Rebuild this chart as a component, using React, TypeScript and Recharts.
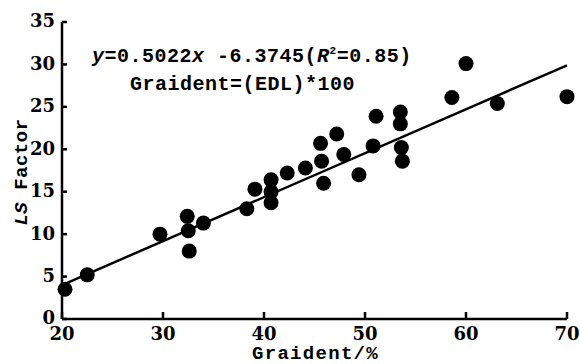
import { ScatterChart, Scatter, XAxis, YAxis } from "recharts";

const gradient = [20.3, 22.5, 29.7, 32.4, 32.5, 32.6, 34.0, 38.3, 39.1, 40.7, 40.7, 40.7, 42.3, 44.1, 45.6, 45.7, 45.9, 47.2, 47.9, 49.4, 50.8, 51.1, 53.5, 53.5, 53.6, 53.7, 58.6, 60.0, 63.1, 70.0];
const lsFactor = [3.5, 5.2, 10.0, 12.1, 10.4, 8.0, 11.3, 13.0, 15.3, 16.4, 15.0, 13.7, 17.2, 17.8, 20.7, 18.6, 16.0, 21.8, 19.4, 17.0, 20.4, 23.9, 24.4, 23.0, 20.2, 18.6, 26.1, 30.1, 25.4, 26.2];

// fitted line as drawn in the figure (end points)
const trendX = [20, 70];
const trendY = [4.0, 29.9];

const xTicks = [20, 30, 40, 50, 60, 70];
const yTicks = [0, 5, 10, 15, 20, 25, 30, 35];

const points = gradient.map((x, i) => ({ x, y: lsFactor[i] }));
const trend = trendX.map((x, i) => ({ x, y: trendY[i] }));

const mono = "'Liberation Mono', 'Courier New', monospace";
const serif = "'DejaVu Serif', 'Liberation Serif', serif";

const Dot = (props: any) => <circle cx={props.cx} cy={props.cy} r={7.5} fill="#000" />;

const textStyle = {
  position: "absolute" as const,
  fontFamily: mono,
  fontWeight: 700,
  fontSize: 20,
  lineHeight: "20px",
  letterSpacing: 0.5,
  whiteSpace: "nowrap" as const,
  color: "#000",
};

export default function App() {
  return (
    <div style={{ position: "absolute", left: 0, top: 0, width: 580, height: 364, background: "#fff", overflow: "hidden" }}>
      <ScatterChart width={580} height={364} margin={{ top: 22, right: 13, left: 12, bottom: 0 }}>
        <XAxis
          type="number"
          dataKey="x"
          domain={[20, 70]}
          ticks={xTicks}
          height={45}
          axisLine={{ stroke: "#000", strokeWidth: 2.5 }}
          tickLine={{ stroke: "#000", strokeWidth: 2.5 }}
          tickSize={-7}
          tickMargin={15}
          tick={{ fill: "#000", fontSize: 18, fontFamily: serif, fontWeight: 700 }}
        />
        <YAxis
          type="number"
          dataKey="y"
          domain={[0, 35]}
          ticks={yTicks}
          width={50}
          axisLine={{ stroke: "#000", strokeWidth: 2.5 }}
          tickLine={{ stroke: "#000", strokeWidth: 2.5 }}
          tickSize={-5}
          tickMargin={12}
          tick={{ fill: "#000", fontSize: 18, fontFamily: serif, fontWeight: 700, dy: -1 }}
        />
        <Scatter data={points} fill="#000" shape={Dot} isAnimationActive={false} />
        <Scatter
          data={trend}
          line={{ stroke: "#000", strokeWidth: 2.5 }}
          shape={() => null}
          isAnimationActive={false}
        />
      </ScatterChart>

      <div style={{ ...textStyle, left: 92, top: 47 }}>
        <i>y</i>=0.5022<i>x</i> -6.3745(<i>R</i>
        <sup style={{ fontSize: 11, lineHeight: 0 }}>2</sup>=0.85)
      </div>
      <div style={{ ...textStyle, left: 130, top: 75 }}>Graident=(EDL)*100</div>
      <div style={{ ...textStyle, left: 252, top: 344, fontSize: 19, letterSpacing: 1.3 }}>Graident/%</div>
      <div
        style={{
          ...textStyle,
          left: 22,
          top: 172,
          fontSize: 19,
          transform: "translate(-50%, -50%) rotate(-90deg)",
        }}
      >
        <i>LS</i> Factor
      </div>
    </div>
  );
}
